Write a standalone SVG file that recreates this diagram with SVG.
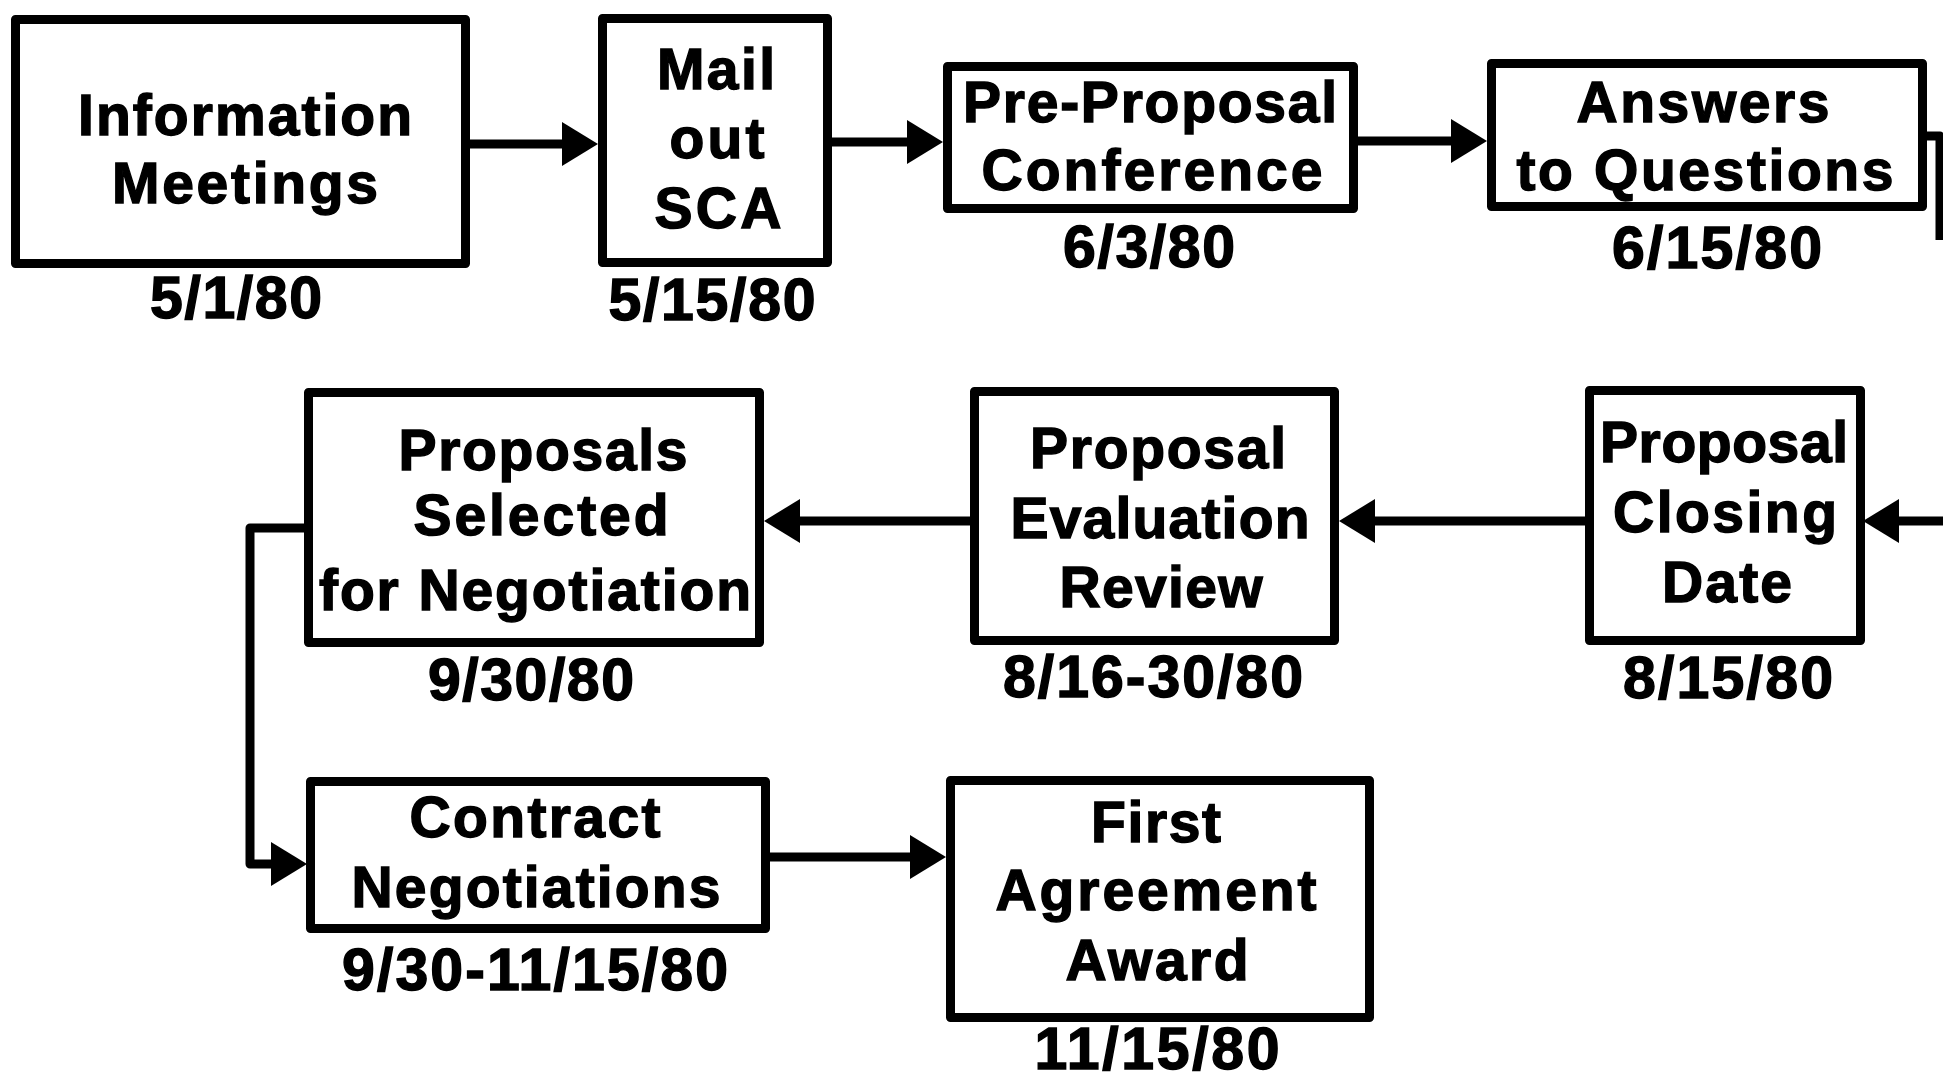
<svg xmlns="http://www.w3.org/2000/svg" width="1943" height="1082" viewBox="0 0 1943 1082">
<style>
.box{fill:#fff;stroke:#000;stroke-width:9;stroke-linejoin:round}
.lbl{font-family:"Liberation Sans",Arial,sans-serif;font-weight:bold;font-size:57px;fill:#000;stroke:#000;stroke-width:1.4;text-anchor:middle}
.dt{font-family:"Liberation Sans",Arial,sans-serif;font-weight:bold;font-size:59px;fill:#000;stroke:#000;stroke-width:1.4;text-anchor:middle}
.con{fill:none;stroke:#000;stroke-width:9;stroke-linejoin:round}
</style>
<defs>
<marker id="ah" viewBox="0 0 36 44" markerWidth="36" markerHeight="44" refX="0" refY="22" orient="auto" markerUnits="userSpaceOnUse">
<path d="M0,0 L36,22 L0,44 z" fill="#000"/>
</marker>
</defs>
<rect width="1943" height="1082" fill="#fff"/>
<g id="connectors">
<path class="con" d="M470,144 H562" marker-end="url(#ah)"/>
<path class="con" d="M832,142 H907" marker-end="url(#ah)"/>
<path class="con" d="M1358,141 H1451" marker-end="url(#ah)"/>
<path class="con" d="M1927,136 H1940 V240"/>
<path class="con" d="M1943,521 H1899" marker-end="url(#ah)"/>
<path class="con" d="M1585,521 H1375" marker-end="url(#ah)"/>
<path class="con" d="M970,521 H800" marker-end="url(#ah)"/>
<path class="con" d="M304,528 H250 V864 H271" marker-end="url(#ah)"/>
<path class="con" d="M770,857 H910" marker-end="url(#ah)"/>
</g>
<g id="n1">
<rect class="box" x="15.5" y="19.5" width="450" height="244"/>
<text class="lbl" x="245" y="135" textLength="334" lengthAdjust="spacing">Information</text>
<text class="lbl" x="245" y="203" textLength="266" lengthAdjust="spacing">Meetings</text>
<text class="dt" x="236" y="318" textLength="172" lengthAdjust="spacing">5/1/80</text>
</g>
<g id="n2">
<rect class="box" x="602.5" y="18.5" width="225" height="244"/>
<text class="lbl" x="716" y="89" textLength="118" lengthAdjust="spacing">Mail</text>
<text class="lbl" x="717" y="158" textLength="95" lengthAdjust="spacing">out</text>
<text class="lbl" x="718" y="228" textLength="127" lengthAdjust="spacing">SCA</text>
<text class="dt" x="712" y="320" textLength="207" lengthAdjust="spacing">5/15/80</text>
</g>
<g id="n3">
<rect class="box" x="947.5" y="66.5" width="406" height="142"/>
<text class="lbl" x="1150" y="122" textLength="374" lengthAdjust="spacing">Pre-Proposal</text>
<text class="lbl" x="1152" y="190" textLength="341" lengthAdjust="spacing">Conference</text>
<text class="dt" x="1149" y="267" textLength="172" lengthAdjust="spacing">6/3/80</text>
</g>
<g id="n4">
<rect class="box" x="1491.5" y="63.5" width="431" height="143"/>
<text class="lbl" x="1703" y="122" textLength="253" lengthAdjust="spacing">Answers</text>
<text class="lbl" x="1705" y="190" textLength="377" lengthAdjust="spacing">to Questions</text>
<text class="dt" x="1717" y="268" textLength="210" lengthAdjust="spacing">6/15/80</text>
</g>
<g id="n5">
<rect class="box" x="1589.5" y="390.5" width="271" height="250"/>
<text class="lbl" x="1724" y="462" textLength="248" lengthAdjust="spacing">Proposal</text>
<text class="lbl" x="1725" y="532" textLength="224" lengthAdjust="spacing">Closing</text>
<text class="lbl" x="1727" y="602" textLength="130" lengthAdjust="spacing">Date</text>
<text class="dt" x="1728" y="698" textLength="210" lengthAdjust="spacing">8/15/80</text>
</g>
<g id="n6">
<rect class="box" x="974.5" y="391.5" width="360" height="249"/>
<text class="lbl" x="1158" y="468" textLength="256" lengthAdjust="spacing">Proposal</text>
<text class="lbl" x="1160" y="538" textLength="299" lengthAdjust="spacing">Evaluation</text>
<text class="lbl" x="1161" y="607" textLength="203" lengthAdjust="spacing">Review</text>
<text class="dt" x="1153" y="697" textLength="300" lengthAdjust="spacing">8/16-30/80</text>
</g>
<g id="n7">
<rect class="box" x="308.5" y="392.5" width="451" height="250"/>
<text class="lbl" x="543" y="470" textLength="289" lengthAdjust="spacing">Proposals</text>
<text class="lbl" x="541" y="535" textLength="255" lengthAdjust="spacing">Selected</text>
<text class="lbl" x="535" y="610" textLength="432" lengthAdjust="spacing">for Negotiation</text>
<text class="dt" x="531" y="700" textLength="206" lengthAdjust="spacing">9/30/80</text>
</g>
<g id="n8">
<rect class="box" x="310.5" y="781.5" width="455" height="147"/>
<text class="lbl" x="535" y="837" textLength="251" lengthAdjust="spacing">Contract</text>
<text class="lbl" x="536" y="907" textLength="369" lengthAdjust="spacing">Negotiations</text>
<text class="dt" x="535" y="990" textLength="386" lengthAdjust="spacing">9/30-11/15/80</text>
</g>
<g id="n9">
<rect class="box" x="950.5" y="780.5" width="419" height="237"/>
<text class="lbl" x="1156" y="842" textLength="130" lengthAdjust="spacing">First</text>
<text class="lbl" x="1156" y="910" textLength="321" lengthAdjust="spacing">Agreement</text>
<text class="lbl" x="1157" y="980" textLength="183" lengthAdjust="spacing">Award</text>
<text class="dt" x="1157" y="1069" textLength="245" lengthAdjust="spacing">11/15/80</text>
</g>
</svg>
